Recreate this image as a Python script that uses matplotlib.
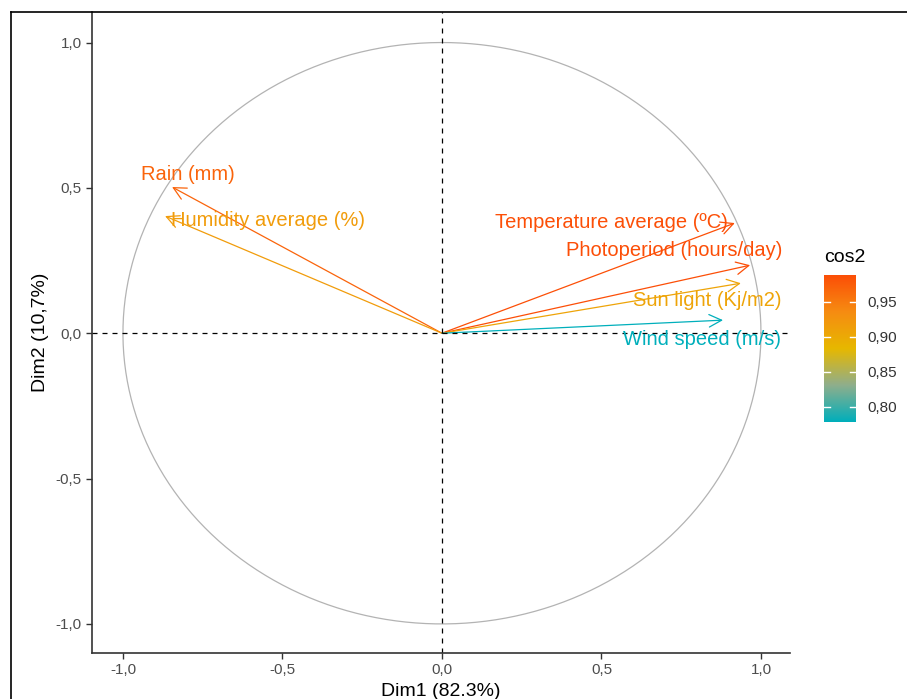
import numpy as np
import matplotlib
matplotlib.use("Agg")
import matplotlib.pyplot as plt
from matplotlib.colors import LinearSegmentedColormap, Normalize
from matplotlib.patches import FancyArrowPatch
from matplotlib.ticker import FuncFormatter
from matplotlib.lines import Line2D

plt.rcParams['font.family'] = ['Liberation Sans', 'DejaVu Sans']

# variable coordinates on Dim1 / Dim2
variables = ["Rain (mm)", "Humidity average (%)", "Temperature average (\u00baC)",
             "Photoperiod (hours/day)", "Sun light (Kj/m2)", "Wind speed (m/s)"]
dim1 = [-0.846, -0.868, 0.918, 0.966, 0.937, 0.881]
dim2 = [0.503, 0.403, 0.379, 0.234, 0.172, 0.045]

# where the repelled labels ended up
label_x = [-0.796, -0.545, 0.530, 0.727, 0.831, 0.815]
label_y = [0.547, 0.389, 0.382, 0.286, 0.114, -0.021]

cos2 = [x * x + y * y for x, y in zip(dim1, dim2)]

cmap = LinearSegmentedColormap.from_list(
    "grad", [(0, "#00AFBB"), (0.25, "#8FAE8C"), (0.5, "#E7B800"),
             (0.75, "#F68C12"), (1, "#FC4E07")])
norm = Normalize(vmin=min(cos2), vmax=max(cos2))


def comma(v, pos):
    return ("%.1f" % v).replace(".", ",")


def comma2(v, pos):
    return ("%.2f" % v).replace(".", ",")


fig = plt.figure(figsize=(9.07, 6.99), dpi=100)
ax = fig.add_axes([92 / 907, 1 - 653 / 699, (790 - 92) / 907, (653 - 12) / 699])

# circle of correlations
t = np.linspace(0, 2 * np.pi, 400)
ax.plot(np.cos(t), np.sin(t), color="#b3b3b3", lw=0.9)
ax.axhline(0, color="black", ls=(0, (4, 4)), lw=0.9)
ax.axvline(0, color="black", ls=(0, (4, 4)), lw=0.9)

for i, name in enumerate(variables):
    c = cmap(norm(cos2[i]))
    ar = FancyArrowPatch((0, 0), (dim1[i], dim2[i]),
                         arrowstyle="->,head_length=0.6,head_width=0.3",
                         color=c, lw=0.9, shrinkA=0, shrinkB=0, mutation_scale=15)
    ax.add_patch(ar)
    ax.text(label_x[i], label_y[i], name, color=c, fontsize=14.5,
            ha="center", va="center")

ax.set_xlim(-1.097, 1.091)
ax.set_ylim(-1.10, 1.105)
ax.set_xticks([-1, -0.5, 0, 0.5, 1])
ax.set_yticks([-1, -0.5, 0, 0.5, 1])
ax.xaxis.set_major_formatter(FuncFormatter(comma))
ax.yaxis.set_major_formatter(FuncFormatter(comma))
ax.tick_params(colors="#333333", labelcolor="#4D4D4D", labelsize=11, length=4, width=1)
for s in ["top", "right"]:
    ax.spines[s].set_visible(False)
for s in ["left", "bottom"]:
    ax.spines[s].set_color("#333333")
    ax.spines[s].set_linewidth(1.2)
ax.set_xlabel("Dim1 (82.3%)", fontsize=14, labelpad=4)
ax.set_ylabel("Dim2 (10,7%)", fontsize=14, labelpad=5)

# colour bar
cax = fig.add_axes([824 / 907, 1 - 422 / 699, 32 / 907, 147 / 699])
grad = np.linspace(norm.vmin, norm.vmax, 256).reshape(-1, 1)
cax.imshow(grad, aspect="auto", cmap=cmap, norm=norm, origin="lower",
           extent=[0, 1, norm.vmin, norm.vmax])
cticks = [0.80, 0.85, 0.90, 0.95]
cax.set_xticks([])
cax.set_yticks(cticks)
cax.yaxis.tick_right()
cax.yaxis.set_major_formatter(FuncFormatter(comma2))
cax.tick_params(axis="y", length=0, labelsize=11, labelcolor="#333333", pad=8)
for v in cticks:
    cax.plot([0, 0.2], [v, v], color="white", lw=1)
    cax.plot([0.8, 1], [v, v], color="white", lw=1)
cax.set_xlim(0, 1)
cax.set_ylim(norm.vmin, norm.vmax)
for s in cax.spines.values():
    s.set_visible(False)
fig.text(845 / 907, 1 - 258 / 699, "cos2", fontsize=14, ha="center", va="center")

# screenshot frame
fig.add_artist(Line2D([10.5 / 907, 10.5 / 907], [0, 1 - 12 / 699], color="black", lw=1.2))
fig.add_artist(Line2D([10.5 / 907, 1], [1 - 12 / 699, 1 - 12 / 699], color="black", lw=1.2))

fig.savefig("out.png", dpi=100)
